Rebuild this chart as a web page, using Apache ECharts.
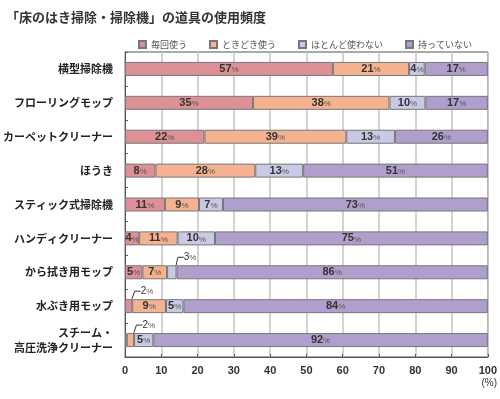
<!DOCTYPE html>
<html>
<head>
<meta charset="utf-8">
<script src="https://cdn.jsdelivr.net/npm/echarts@6/dist/echarts.min.js"></script>
<style>
  html, body { margin: 0; padding: 0; background: #fff; }
  #usageChart { width: 500px; height: 399px; }
</style>
</head>
<body>
<div id="usageChart"></div>
<script>
// 道具の種類 (上から順)
let categories = ['横型掃除機', 'フローリングモップ', 'カーペットクリーナー', 'ほうき', 'スティック式掃除機',
  'ハンディクリーナー', 'から拭き用モップ', '水ぶき用モップ', 'スチーム・\n高圧洗浄クリーナー'];

let seriesNames = ['毎回使う', 'ときどき使う', 'ほとんど使わない', '持っていない'];

// 各割合 (%)
let maikai    = [57.3, 35.3, 21.9,  8.4, 11.0,  3.9,  4.8,  2.0,  0.5];
let tokidoki  = [21.0, 37.6, 39.1, 27.5,  9.4, 10.6,  6.8,  9.3,  2.0];
let hotondo   = [ 4.3,  9.9, 13.4, 13.2,  6.6, 10.3,  2.6,  4.8,  5.3];
let motteinai = [17.4, 17.2, 25.6, 50.9, 73.0, 75.2, 85.8, 83.9, 92.2];

let xTicks = [0, 10, 20, 30, 40, 50, 60, 70, 80, 90, 100];

// 引き出し線つきのラベル [系列番号, データ番号]
let callouts = [[2, 6], [0, 7], [1, 8]];
let hiddenLabels = [[0, 8]];

let colors = ['#dd9095', '#f5b290', '#c9c9e5', '#b09fcc'];

function isIn(list, s, i) {
  return list.some(function (p) { return p[0] === s && p[1] === i; });
}

var usageChartDom = document.getElementById('usageChart');
var usageChart = echarts.init(usageChartDom);

var rich = {
  n: { fontSize: 11, fontWeight: 'bold', color: '#333', fontFamily: 'Liberation Sans' },
  p: { fontSize: 8, color: '#555', fontFamily: 'Liberation Sans', padding: [2, 0, 0, 0] },
  cn: { fontSize: 10, color: '#333', fontFamily: 'Liberation Sans' },
  cp: { fontSize: 8, color: '#555', fontFamily: 'Liberation Sans', padding: [2, 0, 0, 0] }
};

function makeSeries(s, values) {
  return {
    name: seriesNames[s],
    type: 'bar',
    stack: 'total',
    barWidth: 14,
    itemStyle: { color: colors[s], borderColor: '#777', borderWidth: 1 },
    emphasis: { disabled: true },
    label: {
      show: true,
      position: 'inside',
      rich: rich,
      formatter: function (p) {
        if (isIn(hiddenLabels, s, p.dataIndex)) return '';
        var v = Math.round(p.value);
        if (isIn(callouts, s, p.dataIndex)) return '{cn|' + v + '}{cp|%}';
        return '{n|' + v + '}{p|%}';
      }
    },
    labelLine: { show: true, lineStyle: { color: '#333', width: 1 } },
    labelLayout: function (p) {
      if (!isIn(callouts, s, p.dataIndex)) return {};
      return {
        x: p.rect.x + p.rect.width / 2 + 12,
        y: p.rect.y - 8,
        align: 'left',
        verticalAlign: 'middle'
      };
    },
    data: values.map(function (v, i) {
      if (isIn(callouts, s, i)) {
        return { value: v, label: { position: 'top' }, labelLine: { show: true, length2: 6 } };
      }
      return { value: v, labelLine: { show: false } };
    })
  };
}

usageChartOption = {
  animation: false,
  textStyle: { fontFamily: 'Noto Sans CJK JP' },
  title: {
    text: '「床のはき掃除・掃除機」の道具の使用頻度',
    left: 1,
    top: 6,
    textStyle: { fontSize: 13, fontWeight: 'bold', color: '#333', fontFamily: 'Noto Sans CJK JP' }
  },
  legend: {
    data: seriesNames,
    left: 133,
    top: 35,
    icon: 'rect',
    itemWidth: 7,
    itemHeight: 7,
    itemGap: 22,
    textStyle: { fontSize: 9, color: '#555', fontFamily: 'Noto Sans CJK JP' }
  },
  grid: {
    left: 125,
    right: 10.5,
    top: 52,
    bottom: 42,
    show: true,
    borderColor: '#555',
    borderWidth: 1
  },
  xAxis: {
    type: 'value',
    min: 0,
    max: 100,
    interval: 10,
    axisLine: { show: true, lineStyle: { color: '#555' } },
    axisTick: { show: true, inside: true, length: 3, lineStyle: { color: '#555' } },
    splitLine: { show: true, lineStyle: { color: '#c4c4c4', width: 1.5 } },
    axisLabel: {
      fontSize: 11, fontWeight: 'bold', color: '#333', margin: 8, fontFamily: 'Liberation Sans',
      formatter: function (v) { return xTicks.indexOf(v) >= 0 ? String(v) : ''; }
    }
  },
  yAxis: {
    type: 'category',
    data: categories,
    inverse: true,
    axisLine: { show: true, lineStyle: { color: '#555' } },
    axisTick: { show: true, inside: true, length: 3, lineStyle: { color: '#555' } },
    axisLabel: { fontSize: 11, fontWeight: 'bold', color: '#222', margin: 12, lineHeight: 15, align: 'right' }
  },
  graphic: [
    {
      type: 'text',
      right: 3,
      top: 378,
      style: { text: '(%)', fontSize: 10, fill: '#333', fontFamily: 'Liberation Sans' }
    }
  ],
  series: [
    makeSeries(0, maikai),
    makeSeries(1, tokidoki),
    makeSeries(2, hotondo),
    makeSeries(3, motteinai)
  ]
};

usageChart.setOption(usageChartOption);
</script>
</body>
</html>
